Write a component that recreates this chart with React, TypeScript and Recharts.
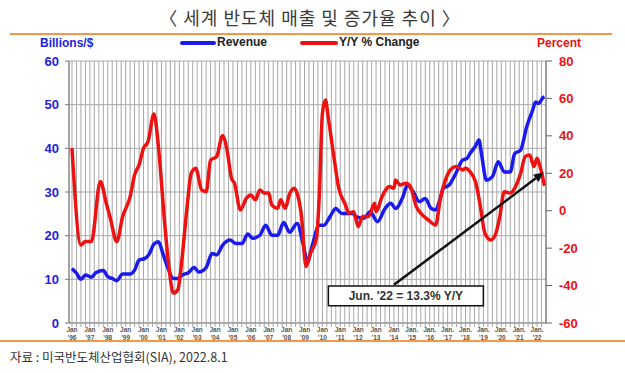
import {
  LineChart,
  Line,
  XAxis,
  YAxis,
  CartesianGrid,
  ReferenceArea,
  ReferenceLine,
} from "recharts";

// month index: 0 = Jan '96
const revenueMonths = [
  0, 3, 6, 9, 13, 16, 21, 24, 27, 30, 34, 39, 42, 45, 49, 52, 55, 58, 61, 64,
  68, 71, 74, 78, 82, 85, 90, 94, 97, 101, 106, 110, 114, 118, 121, 126, 130,
  134, 138, 142, 146, 151, 155, 158, 161, 166, 169, 173, 177, 181, 188, 191,
  196, 200, 205, 210, 214, 217, 222, 225, 229, 233, 237, 241, 244, 247, 249,
  253, 257, 262, 265, 267, 271, 273, 275, 278, 282, 286, 290, 294, 297, 301,
  305, 309, 311, 313, 316, 317,
];
const revenueValues = [
  12.5, 11.4, 10.0, 11.0, 10.5, 11.5, 12.0, 10.6, 10.2, 9.7, 11.2, 11.2, 12.1,
  14.4, 14.8, 15.9, 18.1, 18.6, 15.9, 12.9, 10.2, 10.2, 11.0, 11.5, 12.7, 11.7,
  12.7, 15.9, 15.6, 17.8, 19.0, 18.2, 18.2, 20.4, 19.4, 20.1, 22.4, 20.1, 20.1,
  23.0, 20.8, 22.8, 18.2, 14.0, 17.5, 22.4, 22.4, 24.3, 26.2, 25.1, 25.1, 24.3,
  24.0, 25.5, 23.2, 26.2, 27.4, 26.2, 28.9, 31.6, 30.0, 27.8, 28.5, 26.2, 25.9,
  28.5, 30.8, 31.6, 33.9, 37.3, 37.7, 38.8, 40.7, 41.9, 38.1, 32.7, 33.5, 36.9,
  34.6, 34.6, 38.8, 39.6, 44.9, 48.7, 50.6, 50.3, 51.6, 51.8,
];

const yoyMonths = [
  0, 6, 9, 13, 19, 23, 26, 30, 34, 39, 42, 45, 48, 51, 55, 58, 62, 65, 68, 71,
  73, 77, 80, 83, 87, 90, 93, 97, 101, 104, 107, 109, 113, 117, 120, 123, 126,
  129, 132, 134, 138, 140, 143, 146, 149, 151, 154, 157, 160, 164, 166, 168,
  170, 172, 176, 179, 183, 186, 189, 192, 195, 199, 203, 204, 208, 213, 216,
  217, 220, 224, 227, 231, 235, 239, 244, 247, 251, 255, 258, 262, 264, 267,
  271, 274, 277, 281, 284, 287, 290, 294, 297, 301, 304, 307, 310, 312, 314,
  317,
];
const yoyValues = [
  33.4, -18.3, -16.5, -16.5, 15.6, 4.0, -4.9, -16.5, -3.1, 7.5, 19.1, 24.5,
  33.4, 36.9, 51.7, 34.2, -4.9, -29.8, -44.0, -42.3, -31.6, 0.4, 20.0, 22.7,
  11.1, 10.2, 27.1, 28.9, 40.0, 32.5, 17.4, 14.7, 0.4, 6.7, 8.4, 5.8, 11.1, 9.4,
  9.4, 3.1, 1.3, 5.8, 1.3, 9.0, 12.0, 9.4, -3.1, -29.8, -22.7, -14.7, 9.4, 52.0,
  59.2, 49.4, 27.1, 12.0, 4.0, -1.3, -0.5, -8.5, -3.1, -3.1, 4.0, -0.5, 7.5,
  12.9, 12.0, 16.4, 13.8, 14.7, 12.9, 2.2, -2.2, -4.9, -7.6, 5.8, 17.4, 22.7,
  23.6, 21.8, 22.7, 20.9, 14.7, 2.2, -12.0, -15.6, -12.9, -3.1, 10.2, 9.4, 12.0,
  20.0, 28.9, 29.8, 23.6, 28.0, 23.6, 13.3,
];

const revTicks = [0, 10, 20, 30, 40, 50, 60];
const pctTicks = [-60, -40, -20, 0, 20, 40, 60, 80];
const firstYear = 1996;
const quarterTicks = Array.from({ length: 106 }, (_, i) => i * 3);

const revenueData = revenueMonths.map((m, i) => ({ m, v: revenueValues[i] }));
const yoyData = yoyMonths.map((m, i) => ({ m, v: yoyValues[i] }));

const FONT = "'Liberation Sans', Arial, sans-serif";
const KFONT = "'Noto Sans CJK KR', sans-serif";

function MonthTick({ x, y, payload }: any) {
  const m = payload.value;
  if (m % 12 !== 0) return <g />;
  const yr = firstYear + m / 12;
  const mon = yr >= 2015 ? "Jan." : "Jan";
  const short = "'" + String(yr).slice(2);
  return (
    <g transform={`translate(${x},${y})`}>
      <text textAnchor="middle" y={5} fontSize={6.5} fontWeight="bold" fill="#555" fontFamily={FONT}>
        {mon}
      </text>
      <text textAnchor="middle" y={12.5} fontSize={6.5} fontWeight="bold" fill="#555" fontFamily={FONT}>
        {short}
      </text>
    </g>
  );
}

function Arrow(props: any) {
  const { x1, y1, x2, y2 } = props;
  const ang = Math.atan2(y2 - y1, x2 - x1);
  const len = 10;
  const w = 4.5;
  const bx = x2 - len * Math.cos(ang);
  const by = y2 - len * Math.sin(ang);
  const px = -Math.sin(ang) * w;
  const py = Math.cos(ang) * w;
  return (
    <g>
      <line x1={x1} y1={y1} x2={bx} y2={by} stroke="#111" strokeWidth={2.5} />
      <polygon points={`${x2},${y2} ${bx + px},${by + py} ${bx - px},${by - py}`} fill="#111" />
    </g>
  );
}

export default function App() {
  return (
    <div style={{ position: "absolute", left: 0, top: 0, width: 625, height: 373, background: "#fff", overflow: "hidden" }}>
      <div style={{ position: "absolute", left: 0, top: 4, width: 620, textAlign: "center", fontFamily: KFONT, fontSize: 18, letterSpacing: 1, color: "#3a3a3a" }}>
        〈 세계 반도체 매출 및 증가율 추이 〉
      </div>
      <div style={{ position: "absolute", left: 10, top: 33, width: 602, height: 2, background: "#F79646" }} />
      <div style={{ position: "absolute", left: 40, top: 36, fontFamily: FONT, fontSize: 12, fontWeight: "bold", color: "#2222dd" }}>
        Billions/$
      </div>
      <div style={{ position: "absolute", left: 537, top: 36, fontFamily: FONT, fontSize: 12, fontWeight: "bold", color: "#ee1111" }}>
        Percent
      </div>
      <div style={{ position: "absolute", left: 180, top: 41, width: 36, height: 4, background: "#1a1aee", borderRadius: 2 }} />
      <div style={{ position: "absolute", left: 217, top: 35, fontFamily: FONT, fontSize: 12, fontWeight: "bold", color: "#222" }}>
        Revenue
      </div>
      <div style={{ position: "absolute", left: 300, top: 41, width: 38, height: 4, background: "#ee1111", borderRadius: 2 }} />
      <div style={{ position: "absolute", left: 339, top: 35, fontFamily: FONT, fontSize: 12, fontWeight: "bold", color: "#222" }}>
        Y/Y % Change
      </div>

      <div style={{ position: "absolute", left: 0, top: 0 }}>
        <LineChart width={625} height={373} margin={{ top: 61, right: 29, bottom: 20, left: 29 }}>
          <CartesianGrid yAxisId="rev" stroke="#a8a8a8" strokeWidth={1} />
          <XAxis
            type="number"
            dataKey="m"
            domain={[-2, 318]}
            ticks={quarterTicks}
            interval={0}
            tick={<MonthTick />}
            tickLine={{ stroke: "#a8a8a8" }}
            tickSize={4}
            tickMargin={0}
            axisLine={{ stroke: "#888" }}
            height={30}
            allowDataOverflow
          />
          <YAxis
            yAxisId="rev"
            domain={[0, 60]}
            ticks={revTicks}
            width={40}
            tickSize={4}
            tickMargin={6}
            axisLine={{ stroke: "#777" }}
            tickLine={{ stroke: "#777" }}
            tick={{ fill: "#2222dd", fontSize: 13, fontWeight: "bold", fontFamily: FONT }}
          />
          <YAxis
            yAxisId="pct"
            orientation="right"
            domain={[-60, 80]}
            ticks={pctTicks}
            width={50}
            tickSize={6}
            tickMargin={7}
            axisLine={{ stroke: "#666" }}
            tickLine={{ stroke: "#666" }}
            tick={{ fill: "#ee1111", fontSize: 13, fontWeight: "bold", fontFamily: FONT, textAnchor: "start" }}
          />
          <Line
            yAxisId="rev"
            data={revenueData}
            dataKey="v"
            type="monotone"
            stroke="#1a1aee"
            strokeWidth={3.5}
            dot={false}
            isAnimationActive={false}
          />
          <Line
            yAxisId="pct"
            data={yoyData}
            dataKey="v"
            type="monotone"
            stroke="#ee1111"
            strokeWidth={3.5}
            dot={false}
            isAnimationActive={false}
          />
          <ReferenceLine
            yAxisId="pct"
            segment={[
              { x: 216, y: -39.6 },
              { x: 316.5, y: 20.5 },
            ]}
            shape={<Arrow />}
          />
          <ReferenceArea
            yAxisId="pct"
            x1={172}
            x2={276}
            y1={-50.8}
            y2={-40.2}
            fill="#fff"
            fillOpacity={1}
            stroke="#111"
            strokeWidth={1.5}
            label={{ value: "Jun. '22 = 13.3% Y/Y", position: "center", fill: "#333", fontSize: 12, fontWeight: "bold", fontFamily: FONT }}
          />
        </LineChart>
      </div>

      <div style={{ position: "absolute", left: 0, top: 340, width: 625, height: 2, background: "#F79646" }} />
      <div style={{ position: "absolute", left: 10, top: 347, fontFamily: KFONT, fontSize: 12.5, color: "#333" }}>
        자료 : 미국반도체산업협회(SIA), 2022.8.1
      </div>
    </div>
  );
}
